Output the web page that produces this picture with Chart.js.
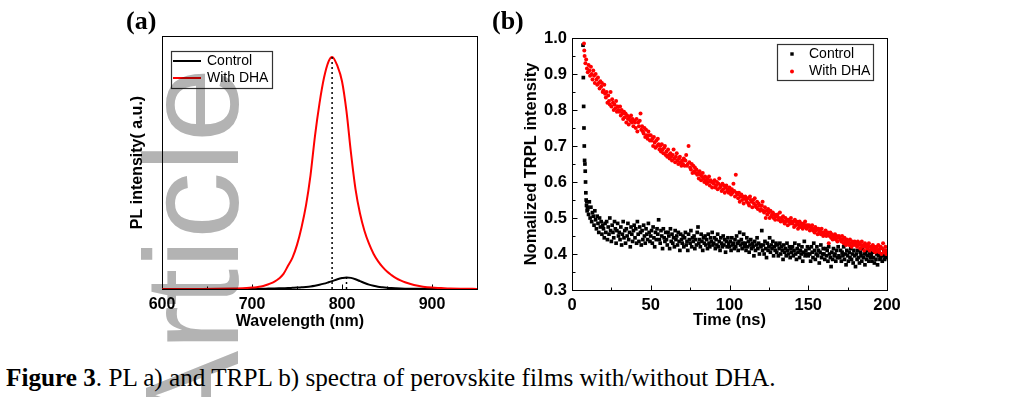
<!DOCTYPE html>
<html>
<head>
<meta charset="utf-8">
<script src="https://cdn.jsdelivr.net/npm/chart.js@4.4.0/dist/chart.umd.min.js"></script>
<style>
  html, body { margin: 0; padding: 0; background: #fff; }
  body { width: 1022px; height: 397px; position: relative; overflow: hidden; }
  .box { position: absolute; top: 0; height: 340px; }
  #boxA { left: 100px; width: 400px; }
  #boxB { left: 480px; width: 440px; }
  .panel { position: absolute; top: 8px; font: bold 26px "Liberation Serif", "Times New Roman", serif; line-height: 26px; }
  #caption { position: absolute; left: 6px; top: 365px; font: 25.2px "Liberation Serif", "Times New Roman", serif; line-height: 25px; white-space: nowrap; }
  #mark { position: absolute; left: 0; top: 0; pointer-events: none; mix-blend-mode: multiply; }
</style>
</head>
<body>
<div class="box" id="boxA"><canvas id="plChart"></canvas></div>
<div class="box" id="boxB"><canvas id="trplChart"></canvas></div>
<div class="panel" style="left:126px">(a)</div>
<div class="panel" style="left:492px">(b)</div>
<div id="caption"><b>Figure 3</b>. PL a) and TRPL b) spectra of perovskite films with/without DHA.</div>
<canvas id="mark" width="1022" height="397"></canvas>
<script>
// (a) PL spectra
const wavelength = [600, 620, 640, 660, 680, 690, 700, 705, 710, 715, 720, 725, 730, 735, 740, 745, 750, 755,
    760, 765, 770, 775, 780, 785, 789, 795, 800, 805, 810, 815, 820, 825, 830, 835, 840, 845, 850, 855, 860,
    865, 870, 880, 890, 900, 910, 920, 935, 950];
const plControl = [0, 0, 0, 0, .0002, .0005, .0008, .001, .0012, .0015, .002, .0025, .003, .0035, .004, .005, .006, .0075,
    .009, .011, .014, .018, .023, .029, .034, .042, .047, .050, .048, .042, .034, .026, .019, .014, .010, .0075, .0055, .004, .003,
    .0022, .0016, .001, .0006, .0004, .0002, .0001, 0, 0];
const plDHA = [0, .0002, .0004, .0008, .002, .003, .006, .008, .011, .016, .023, .032, .045, .065, .10, .135, .19, .265,
    .36, .49, .66, .80, .91, .98, 1.0, .96, .895, .765, .585, .43, .325, .25, .195, .152, .12, .095, .075, .06, .047,
    .037, .029, .017, .010, .006, .004, .002, .001, .0005];
const dhaPeak = [789, 1.0];
const ctrlPeak = [805, 0.05];

// (b) TRPL decays, tails sampled every 0.5 ns
const tailStep = 0.5;
const ctrlEarlyTime = [7.0, 7.2, 7.4, 7.6, 7.8, 8.0, 8.2, 8.4, 8.6, 8.8, 9.0, 9.2, 9.4, 9.6, 9.8];
const ctrlEarlyVal = [.98, .89, .81, .75, .70, .66, .65, .63, .60, .57, .55, .535, .545, .52, .53];
const ctrlTailStart = 10;
const ctrlTailVal = [
    .525,.51,.545,.50,.53,.49,.515,.505,.48,.52,.495,.47,.505,.485,.46,.50,.475,.49,.455,.48,
    .47,.445,.485,.46,.49,.44,.475,.455,.50,.465,.435,.48,.46,.445,.49,.47,.43,.465,.485,.45,
    .46,.44,.475,.425,.455,.49,.445,.465,.43,.47,.45,.485,.44,.46,.42,.475,.455,.435,.465,.48,
    .445,.47,.43,.49,.455,.435,.475,.46,.425,.465,.44,.48,.45,.43,.47,.455,.44,.485,.46,.435,
    .45,.465,.43,.475,.445,.42,.46,.44,.47,.455,.495,.44,.43,.465,.45,.415,.47,.445,.435,.46,
    .44,.425,.46,.45,.415,.47,.435,.455,.43,.445,.42,.465,.44,.45,.425,.46,.435,.41,.455,.44,
    .43,.45,.42,.445,.46,.425,.435,.41,.455,.44,.43,.465,.42,.445,.435,.45,.415,.44,.425,.46,
    .475,.43,.44,.42,.455,.435,.41,.445,.43,.45,.425,.44,.415,.455,.43,.42,.445,.435,.46,.425,
    .43,.445,.415,.44,.425,.455,.42,.435,.41,.445,.43,.42,.45,.425,.44,.405,.435,.42,.445,.43,
    .42,.435,.41,.445,.425,.43,.415,.44,.42,.45,.43,.41,.435,.46,.425,.44,.415,.43,.455,.42,
    .43,.41,.445,.42,.435,.405,.425,.44,.415,.43,.42,.395,.435,.41,.425,.445,.415,.43,.40,.425,
    .42,.465,.41,.425,.40,.435,.415,.39,.43,.41,.42,.445,.405,.425,.415,.435,.395,.42,.41,.43,
    .405,.425,.395,.415,.43,.40,.42,.41,.385,.425,.405,.415,.395,.43,.41,.40,.42,.39,.415,.405,
    .42,.395,.41,.43,.40,.385,.415,.405,.425,.39,.41,.40,.42,.38,.405,.435,.395,.41,.40,.42,
    .395,.415,.40,.38,.42,.405,.39,.43,.41,.385,.40,.42,.395,.41,.375,.405,.425,.39,.40,.415,
    .40,.385,.415,.395,.41,.38,.42,.40,.39,.365,.405,.385,.415,.395,.40,.38,.41,.39,.42,.395,
    .39,.41,.38,.405,.395,.42,.385,.40,.37,.41,.395,.38,.405,.39,.415,.385,.40,.375,.41,.395,
    .365,.40,.385,.41,.39,.375,.405,.395,.38,.415,.39,.40,.37,.405,.385,.395,.41,.38,.40,.39,
    .395,.38,.405,.39,.375,.41,.385,.40,.37,.395,.405,.385,.39,.40,.38,.395,.41,.385,.39,.40,
    .395];
const dhaEarlyTime = [7.6, 7.8];
const dhaEarlyVal = [.985, .965];
const dhaTailStart = 8;
const dhaTailVal = [
    .95,.93,.94,.915,
    .905,.925,.91,.895,.92,.90,.885,.91,.895,.875,.90,.885,.87,.89,.875,.86,.88,.865,.875,.85,
    .855,.87,.845,.835,.85,.82,.84,.825,.815,.85,.81,.83,.82,.80,.815,.805,.825,.795,.81,.80,
    .795,.81,.785,.80,.79,.775,.795,.78,.79,.765,.785,.775,.76,.78,.77,.785,.765,.775,.755,.77,
    .765,.75,.775,.74,.765,.755,.77,.79,.745,.755,.74,.735,.75,.725,.745,.73,.72,.74,.73,.715,
    .73,.715,.72,.70,.725,.71,.695,.715,.70,.72,.705,.69,.70,.685,.705,.69,.68,.695,.70,.675,
    .685,.67,.69,.675,.665,.68,.67,.66,.675,.69,.665,.655,.67,.68,.66,.65,.665,.67,.655,.645,
    .66,.65,.665,.645,.66,.675,.645,.65,.70,.655,.64,.635,.65,.625,.645,.63,.64,.625,.635,.62,
    .625,.61,.63,.62,.605,.615,.625,.61,.60,.615,.605,.595,.61,.60,.615,.59,.605,.60,.585,.60,
    .595,.605,.585,.59,.60,.58,.595,.61,.585,.59,.575,.595,.58,.59,.57,.585,.59,.575,.58,.57,
    .585,.575,.565,.58,.57,.595,.575,.56,.62,.57,.565,.555,.57,.545,.56,.565,.55,.56,.54,.555,
    .56,.55,.545,.555,.54,.535,.56,.55,.545,.53,.55,.54,.555,.535,.53,.545,.525,.54,.535,.52,
    .525,.535,.545,.52,.515,.53,.50,.52,.51,.525,.515,.50,.52,.505,.51,.515,.50,.51,.495,.505,
    .505,.51,.495,.50,.515,.49,.50,.495,.505,.49,.485,.50,.49,.495,.48,.495,.49,.485,.50,.49,
    .485,.49,.475,.495,.48,.49,.485,.47,.48,.49,.475,.485,.48,.47,.485,.475,.49,.48,.47,.48,
    .475,.48,.465,.475,.47,.48,.465,.47,.46,.475,.465,.47,.455,.47,.46,.465,.455,.47,.46,.45,
    .46,.455,.465,.45,.455,.46,.43,.45,.46,.445,.455,.44,.45,.445,.455,.44,.45,.435,.445,.45,
    .445,.44,.435,.45,.44,.43,.445,.435,.425,.44,.43,.435,.425,.44,.43,.42,.435,.43,.425,.435,
    .43,.425,.42,.435,.425,.43,.415,.425,.435,.42,.425,.41,.43,.42,.425,.415,.42,.43,.41,.42,
    .42,.415,.425,.41,.42,.405,.415,.42,.41,.425,.405,.415,.42,.40,.415,.43,.405,.41,.42,.40,
    .41];

const FONT = '"Liberation Sans", Arial, Helvetica, sans-serif';
Chart.defaults.font.family = FONT;
Chart.defaults.color = '#000';

// frame round the plot area plus Origin-style inward ticks
const frameTicks = {
    id: 'frameTicks',
    beforeDatasetsDraw(chart, args, opts) {
        const { ctx, chartArea: a, scales } = chart;
        const l = Math.round(a.left) + 0.5, t = Math.round(a.top) + 0.5;
        const r = Math.round(a.right) + 0.5, b = Math.round(a.bottom) + 0.5;
        ctx.save();
        ctx.strokeStyle = '#000';
        ctx.lineWidth = 1;
        ctx.strokeRect(l, t, r - l, b - t);
        (opts.axes || []).forEach(ax => {
            const s = scales[ax.id];
            const n = Math.round((ax.to - ax.from) / ax.minor);
            for (let k = 0; k <= n; k++) {
                const v = ax.from + k * ax.minor;
                const q = v / ax.major;
                const len = Math.abs(q - Math.round(q)) < 1e-6 ? 5 : 3;
                const p = Math.round(s.getPixelForValue(v)) + 0.5;
                ctx.beginPath();
                if (ax.id === 'x') { ctx.moveTo(p, b); ctx.lineTo(p, b - len); }
                else { ctx.moveTo(l, p); ctx.lineTo(l + len, p); }
                ctx.stroke();
            }
        });
        if (opts.xTitle) {
            ctx.font = opts.xTitle.font;
            ctx.fillStyle = '#000';
            ctx.textAlign = 'center';
            ctx.textBaseline = 'middle';
            ctx.fillText(opts.xTitle.text, opts.xTitle.x, opts.xTitle.y);
        }
        ctx.restore();
    }
};

// boxed legend inside the plot
const boxLegend = {
    id: 'boxLegend',
    afterDraw(chart, args, o) {
        const ctx = chart.ctx;
        ctx.save();
        ctx.fillStyle = '#fff';
        ctx.fillRect(o.x, o.y, o.w, o.h);
        ctx.strokeStyle = '#333';
        ctx.lineWidth = 1.2;
        ctx.strokeRect(o.x + 0.5, o.y + 0.5, o.w, o.h);
        ctx.font = '14px ' + FONT;
        ctx.textBaseline = 'middle';
        chart.data.datasets.filter(d => d.label).forEach((d, i) => {
            const cy = o.y + o.row0 + i * o.rowGap;
            const col = d.borderColor || d.backgroundColor;
            if (o.mode === 'line') {
                ctx.strokeStyle = col;
                ctx.lineWidth = 2;
                ctx.beginPath();
                ctx.moveTo(o.x + o.m0, cy);
                ctx.lineTo(o.x + o.m1, cy);
                ctx.stroke();
            } else {
                ctx.fillStyle = d.backgroundColor;
                if (d.pointStyle === 'rect') {
                    ctx.fillRect(o.x + o.m0 - 1.7, cy - 1.7, 3.4, 3.4);
                } else {
                    ctx.beginPath();
                    ctx.arc(o.x + o.m0, cy, 2, 0, Math.PI * 2);
                    ctx.fill();
                }
            }
            ctx.fillStyle = '#000';
            ctx.fillText(d.label, o.x + o.tx, cy);
        });
        ctx.restore();
    }
};

document.addEventListener('DOMContentLoaded', function() {
    // PL chart
    const plCtx = document.getElementById('plChart').getContext('2d');
    new Chart(plCtx, {
        type: 'line',
        data: {
            datasets: [{
                label: 'Control',
                data: wavelength.map((w, i) => ({ x: w, y: plControl[i] })),
                borderColor: '#000000',
                borderWidth: 2,
                pointRadius: 0,
                cubicInterpolationMode: 'monotone',
                order: 1
            }, {
                label: 'With DHA',
                data: wavelength.map((w, i) => ({ x: w, y: plDHA[i] })),
                borderColor: '#ff0000',
                borderWidth: 2,
                pointRadius: 0,
                cubicInterpolationMode: 'monotone',
                order: 0
            }, {
                label: '',
                data: [{ x: dhaPeak[0], y: 0 }, { x: dhaPeak[0], y: dhaPeak[1] }],
                borderColor: '#000000',
                borderWidth: 1.5,
                borderDash: [2, 3],
                pointRadius: 0,
                order: -1
            }, {
                label: '',
                data: [{ x: ctrlPeak[0], y: 0 }, { x: ctrlPeak[0], y: ctrlPeak[1] }],
                borderColor: '#000000',
                borderWidth: 1.5,
                borderDash: [2, 3],
                pointRadius: 0,
                order: -1
            }]
        },
        options: {
            responsive: true,
            maintainAspectRatio: false,
            animation: false,
            devicePixelRatio: 1,
            layout: { padding: { left: 22, right: 23, top: 36, bottom: 6 } },
            plugins: {
                legend: { display: false },
                tooltip: { enabled: false },
                frameTicks: {
                    axes: [{ id: 'x', from: 600, to: 900, minor: 50, major: 100 }],
                    xTitle: { text: 'Wavelength (nm)', x: 200, y: 322, font: 'bold 16px ' + FONT }
                },
                boxLegend: { mode: 'line', x: 71, y: 51, w: 101, h: 37, row0: 10, rowGap: 17, m0: 2, m1: 30, tx: 36 }
            },
            scales: {
                x: {
                    type: 'linear',
                    min: 600,
                    max: 950,
                    grid: { display: false, drawTicks: false },
                    border: { display: false },
                    ticks: {
                        stepSize: 100,
                        autoSkip: false,
                        maxRotation: 0,
                        padding: 6,
                        font: { size: 16, weight: 'bold' },
                        callback: v => (v % 100 === 0 && v < 950 ? v : '')
                    },
                    afterFit: s => { s.height = 45; }
                },
                y: {
                    min: 0,
                    max: 1.09,
                    grid: { display: false, drawTicks: false },
                    border: { display: false },
                    ticks: { display: false },
                    title: {
                        display: true,
                        text: 'PL intensity( a.u.)',
                        font: { size: 16, weight: 'bold' },
                        padding: { top: 6, bottom: 0 }
                    },
                    afterFit: s => { s.width = 40; }
                }
            }
        },
        plugins: [frameTicks, boxLegend]
    });

    // TRPL chart
    const ctrlPoints = ctrlEarlyTime.map((t, i) => ({ x: t, y: ctrlEarlyVal[i] }))
        .concat(ctrlTailVal.map((v, i) => ({ x: ctrlTailStart + i * tailStep, y: v })));
    const dhaPoints = dhaEarlyTime.map((t, i) => ({ x: t, y: dhaEarlyVal[i] }))
        .concat(dhaTailVal.map((v, i) => ({ x: dhaTailStart + i * tailStep, y: v })));

    const trplCtx = document.getElementById('trplChart').getContext('2d');
    new Chart(trplCtx, {
        type: 'scatter',
        data: {
            datasets: [{
                label: 'Control',
                data: ctrlPoints,
                pointStyle: 'rect',
                pointRadius: 2.6,
                pointBorderWidth: 0,
                backgroundColor: '#000000',
                borderColor: '#000000',
                order: 1
            }, {
                label: 'With DHA',
                data: dhaPoints,
                pointStyle: 'circle',
                pointRadius: 2.0,
                pointBorderWidth: 0,
                backgroundColor: '#ff0000',
                borderColor: '#ff0000',
                order: 0
            }]
        },
        options: {
            responsive: true,
            maintainAspectRatio: false,
            animation: false,
            devicePixelRatio: 1,
            layout: { padding: { left: 32, right: 33, top: 38, bottom: 5 } },
            plugins: {
                legend: { display: false },
                tooltip: { enabled: false },
                frameTicks: {
                    axes: [
                        { id: 'x', from: 0, to: 200, minor: 25, major: 50 },
                        { id: 'y', from: 0.3, to: 1.0, minor: 0.05, major: 0.1 }
                    ]
                },
                boxLegend: { mode: 'point', x: 297, y: 44, w: 96, h: 36, row0: 10, rowGap: 17.5, m0: 15, tx: 32 }
            },
            scales: {
                x: {
                    type: 'linear',
                    min: 0,
                    max: 200,
                    grid: { display: false, drawTicks: false },
                    border: { display: false },
                    ticks: {
                        stepSize: 50,
                        autoSkip: false,
                        maxRotation: 0,
                        padding: 6,
                        font: { size: 16.5, weight: 'bold' }
                    },
                    title: {
                        display: true,
                        text: 'Time (ns)',
                        font: { size: 16.5, weight: 'bold' },
                        padding: { top: 0, bottom: 5 }
                    },
                    afterFit: s => { s.height = 45; }
                },
                y: {
                    min: 0.3,
                    max: 1.0,
                    grid: { display: false, drawTicks: false },
                    border: { display: false },
                    ticks: {
                        stepSize: 0.1,
                        padding: 5,
                        font: { size: 16.5, weight: 'bold' },
                        callback: v => v.toFixed(1)
                    },
                    title: {
                        display: true,
                        text: 'Nomalized TRPL intensity',
                        font: { size: 16.5, weight: 'bold' },
                        padding: { top: 10, bottom: 0 }
                    },
                    afterFit: s => { s.width = 60; }
                }
            }
        },
        plugins: [frameTicks, boxLegend]
    });

    // grey "Article" watermark laid over the figure
    const mctx = document.getElementById('mark').getContext('2d');
    mctx.fillStyle = '#b3b3b3';
    mctx.font = '134px ' + FONT;
    mctx.translate(238, 440);
    mctx.rotate(-Math.PI / 2);
    mctx.fillText('Article', 0, 0);
});
</script>
</body>
</html>
